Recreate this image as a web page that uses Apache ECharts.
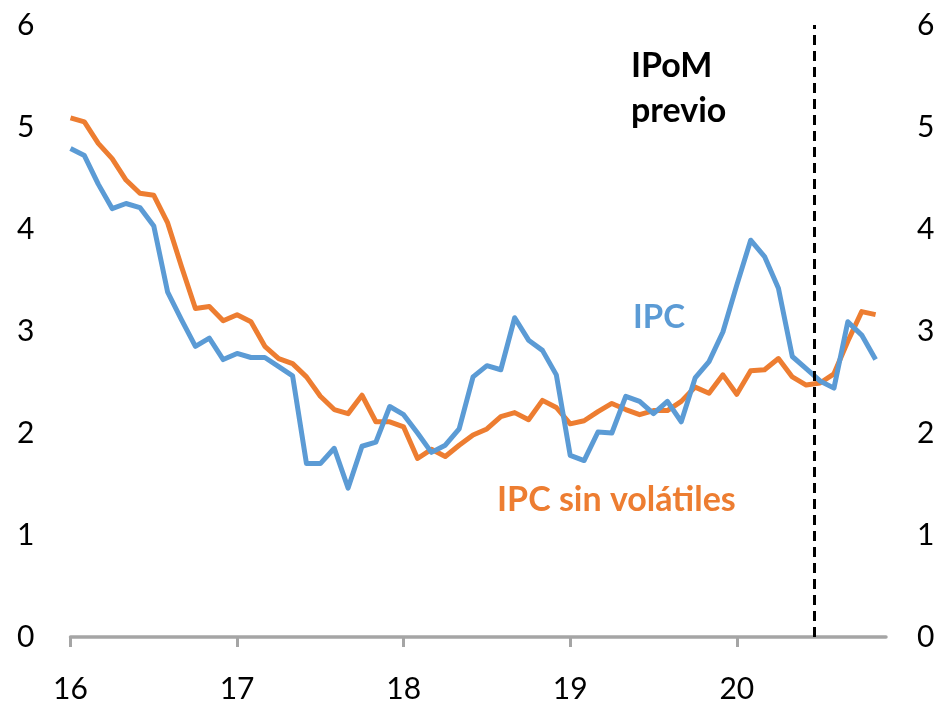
<!DOCTYPE html>
<html>
<head>
<meta charset="utf-8">
<script src="https://cdn.jsdelivr.net/npm/echarts@6/dist/echarts.min.js"></script>
<style>
html,body{margin:0;padding:0;background:#fff;}
#chart{width:935px;height:702px;}
</style>
</head>
<body>
<div id="chart"></div>
<script>
// Monthly data, Jan 2016 (index 0) to Nov 2020 (index 58)
const yearTicks = [0, 12, 24, 36, 48];
const yearLabels = ['16', '17', '18', '19', '20'];
const yTicks = [0, 1, 2, 3, 4, 5, 6];
const ipc = [4.79,4.72,4.44,4.20,4.25,4.21,4.03,3.38,3.11,2.85,2.93,2.72,
             2.78,2.74,2.74,2.65,2.56,1.70,1.70,1.85,1.46,1.87,1.91,2.26,
             2.18,2.00,1.81,1.88,2.04,2.55,2.66,2.62,3.13,2.91,2.81,2.57,
             1.78,1.73,2.01,2.00,2.36,2.31,2.19,2.31,2.11,2.54,2.70,2.99,
             3.45,3.89,3.73,3.42,2.75,2.63,2.51,2.44,3.09,2.96,2.72];
const ipcSinVolatiles = [5.09,5.05,4.84,4.69,4.48,4.35,4.33,4.06,3.63,3.22,3.24,3.10,
             3.16,3.09,2.85,2.73,2.68,2.55,2.36,2.23,2.19,2.37,2.11,2.11,
             2.06,1.75,1.84,1.77,1.88,1.98,2.04,2.16,2.20,2.13,2.32,2.25,
             2.09,2.12,2.21,2.29,2.23,2.18,2.22,2.22,2.31,2.45,2.39,2.57,
             2.38,2.61,2.62,2.73,2.55,2.47,2.49,2.58,2.90,3.19,3.16];
const ipomPrevio = 53.6;
const seriesNames = ['IPC', 'IPC sin volátiles'];

const chart = echarts.init(document.getElementById('chart'), null, {renderer: 'canvas'});
const font = 'Lato';
const toPairs = arr => arr.map((v, i) => [i, v]);

chart.setOption({
  animation: false,
  backgroundColor: '#ffffff',
  grid: {left: 70.5, right: 49, top: 25, bottom: 65, containLabel: false, outerBoundsMode: 'none'},
  xAxis: {
    type: 'value', min: 0, max: 58.75, interval: 12,
    splitLine: {show: false},
    axisLine: {show: true, lineStyle: {color: '#A5A5A5', width: 3.5}},
    axisTick: {show: true, length: 10, lineStyle: {color: '#A5A5A5', width: 3}, customValues: yearTicks},
    axisLabel: {
      customValues: yearTicks,
      formatter: v => yearLabels[yearTicks.indexOf(v)] || '',
      color: '#000', fontFamily: font, fontSize: 30, margin: 37
    }
  },
  yAxis: [
    {type: 'value', min: 0, max: 6, interval: 1, position: 'left',
     splitLine: {show: false}, axisLine: {show: false}, axisTick: {show: false},
     axisLabel: {color: '#000', fontFamily: font, fontSize: 30, margin: 36}},
    {type: 'value', min: 0, max: 6, interval: 1, position: 'right',
     splitLine: {show: false}, axisLine: {show: false}, axisTick: {show: false},
     axisLabel: {color: '#000', fontFamily: font, fontSize: 30, margin: 31}}
  ],
  series: [
    {name: seriesNames[1], type: 'line', data: toPairs(ipcSinVolatiles), showSymbol: false,
     lineStyle: {color: '#ED7D31', width: 5, join: 'round'}, z: 2},
    {name: seriesNames[0], type: 'line', data: toPairs(ipc), showSymbol: false,
     lineStyle: {color: '#5B9BD5', width: 5, join: 'round'}, z: 3,
     markLine: {
       silent: true, symbol: 'none', label: {show: false},
       lineStyle: {color: '#000', type: [10, 6], width: 3},
       data: [{xAxis: ipomPrevio}]
     }}
  ],
  graphic: [
    {type: 'text', left: 631, top: 44, style: {text: 'IPoM\nprevio', fill: '#000', font: 'bold 34px Lato', lineHeight: 45}},
    {type: 'text', left: 633, top: 301, style: {text: seriesNames[0], fill: '#5B9BD5', font: 'bold 33px Lato'}},
    {type: 'text', left: 497, top: 483, style: {text: seriesNames[1], fill: '#ED7D31', font: 'bold 34px Lato'}}
  ]
});
</script>
</body>
</html>
